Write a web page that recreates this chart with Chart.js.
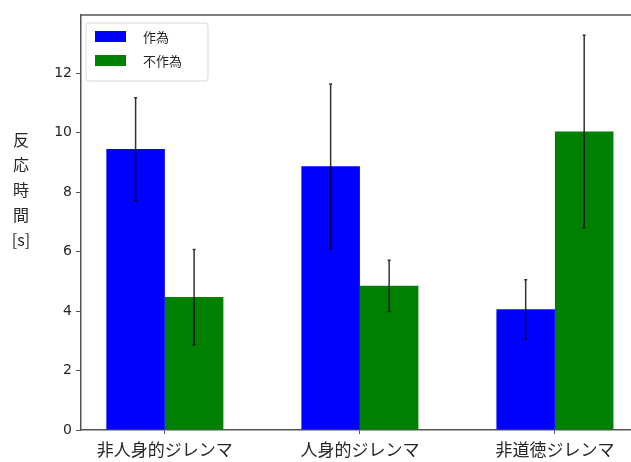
<!DOCTYPE html>
<html>
<head>
<meta charset="utf-8">
<script src="https://cdn.jsdelivr.net/npm/chart.js@4/dist/chart.umd.min.js"></script>
<style>
  html, body { margin: 0; padding: 0; background: #fff; overflow: hidden; }
  #wrap { width: 631px; height: 462px; }
</style>
</head>
<body>
<div id="wrap"><canvas id="myChart" width="631" height="462"></canvas></div>
<script>
// reaction time per dilemma type, action vs. inaction
const categories = ["非人身的ジレンマ", "人身的ジレンマ", "非道徳ジレンマ"];
const seriesNames = ["作為", "不作為"];
const actionMeans = [9.45, 8.87, 4.06];
const actionErrors = [1.73, 2.77, 0.99];
const inactionMeans = [4.47, 4.85, 10.04];
const inactionErrors = [1.6, 0.86, 3.24];
const yTicks = [0, 2, 4, 6, 8, 10, 12];
const yLabelLines = ["反", "応", "時", "間", "[s]"];

const seriesColors = ["#0000ff", "#008000"];
const axisColor = "#555";
const textColor = "#262626";

function points(values) {
  return values.map((v, i) => ({ x: i, y: v }));
}

const data = {
  datasets: [
    {
      label: seriesNames[0],
      data: points(actionMeans),
      errors: actionErrors,
      backgroundColor: seriesColors[0],
    },
    {
      label: seriesNames[1],
      data: points(inactionMeans),
      errors: inactionErrors,
      backgroundColor: seriesColors[1],
    },
  ],
};

// vertical error bars on top of every bar
const errorBars = {
  id: "errorBars",
  afterDatasetsDraw(chart) {
    const ctx = chart.ctx;
    const y = chart.scales.y;
    ctx.save();
    ctx.strokeStyle = "rgba(0,0,0,0.8)";
    ctx.lineWidth = 1.5;
    chart.data.datasets.forEach((ds, di) => {
      chart.getDatasetMeta(di).data.forEach((bar, i) => {
        const v = ds.data[i].y;
        const e = ds.errors[i];
        const top = y.getPixelForValue(v + e);
        const bottom = y.getPixelForValue(v - e);
        ctx.beginPath();
        ctx.moveTo(bar.x, top);
        ctx.lineTo(bar.x, bottom);
        ctx.moveTo(bar.x - 1.5, top);
        ctx.lineTo(bar.x + 1.5, top);
        ctx.moveTo(bar.x - 1.5, bottom);
        ctx.lineTo(bar.x + 1.5, bottom);
        ctx.stroke();
      });
    });
    ctx.restore();
  },
};

// top spine, stacked y title and the legend box in the upper left
const decorations = {
  id: "decorations",
  afterDraw(chart) {
    const ctx = chart.ctx;
    const a = chart.chartArea;
    ctx.save();
    ctx.strokeStyle = axisColor;
    ctx.lineWidth = 1.5;
    ctx.beginPath();
    ctx.moveTo(a.left, a.top);
    ctx.lineTo(chart.width, a.top);
    ctx.stroke();

    ctx.fillStyle = textColor;
    ctx.font = '16px "Noto Sans CJK JP"';
    ctx.textAlign = "center";
    ctx.textBaseline = "middle";
    yLabelLines.forEach((t, i) => {
      ctx.fillText(t, 21, 140 + i * 25);
    });

    // legend
    const lx = a.left + 5, ly = a.top + 8, lw = 122, lh = 58;
    ctx.beginPath();
    ctx.roundRect(lx, ly, lw, lh, 3);
    ctx.fillStyle = "rgba(255,255,255,0.8)";
    ctx.fill();
    ctx.strokeStyle = "#d8d8d8";
    ctx.lineWidth = 1;
    ctx.stroke();
    ctx.font = '13px "Noto Sans CJK JP"';
    ctx.textAlign = "left";
    chart.data.datasets.forEach((ds, i) => {
      const rowY = ly + 13 + i * 24;
      ctx.fillStyle = ds.backgroundColor;
      ctx.fillRect(lx + 9, rowY - 5, 31, 11);
      ctx.fillStyle = textColor;
      ctx.fillText(ds.label, lx + 57, rowY + 1);
    });
    ctx.restore();
  },
};

const config = {
  type: "bar",
  data: data,
  options: {
    responsive: false,
    animation: false,
    devicePixelRatio: 1,
    layout: { padding: { top: 15, right: 0, left: 0, bottom: 0 } },
    categoryPercentage: 0.6,
    barPercentage: 1.0,
    plugins: {
      legend: { display: false },
      tooltip: { enabled: false },
    },
    scales: {
      x: {
        type: "linear",
        min: -0.43,
        max: 2.39,
        offset: false,
        afterBuildTicks: (axis) => {
          axis.ticks = categories.map((c, i) => ({ value: i }));
        },
        afterFit: (axis) => {
          axis.height = 32;
        },
        grid: {
          offset: false,
          drawOnChartArea: false,
          drawTicks: true,
          tickLength: 4,
          tickColor: axisColor,
        },
        border: { color: axisColor, width: 1.5 },
        ticks: {
          padding: 5,
          color: textColor,
          maxRotation: 0,
          font: { family: '"Noto Sans CJK JP"', size: 17 },
          callback: (v) => categories[v],
        },
      },
      y: {
        min: 0,
        max: 13.96,
        afterBuildTicks: (axis) => {
          axis.ticks = yTicks.map((v) => ({ value: v }));
        },
        afterFit: (axis) => {
          axis.width = 81;
        },
        grid: {
          drawOnChartArea: false,
          drawTicks: true,
          tickLength: 5,
          tickColor: axisColor,
        },
        border: { color: axisColor, width: 1.5 },
        ticks: {
          padding: 4,
          color: textColor,
          font: { family: '"DejaVu Sans"', size: 14 },
        },
      },
    },
  },
  plugins: [errorBars, decorations],
};

const reactionChart = new Chart(document.getElementById("myChart"), config);
</script>
</body>
</html>
